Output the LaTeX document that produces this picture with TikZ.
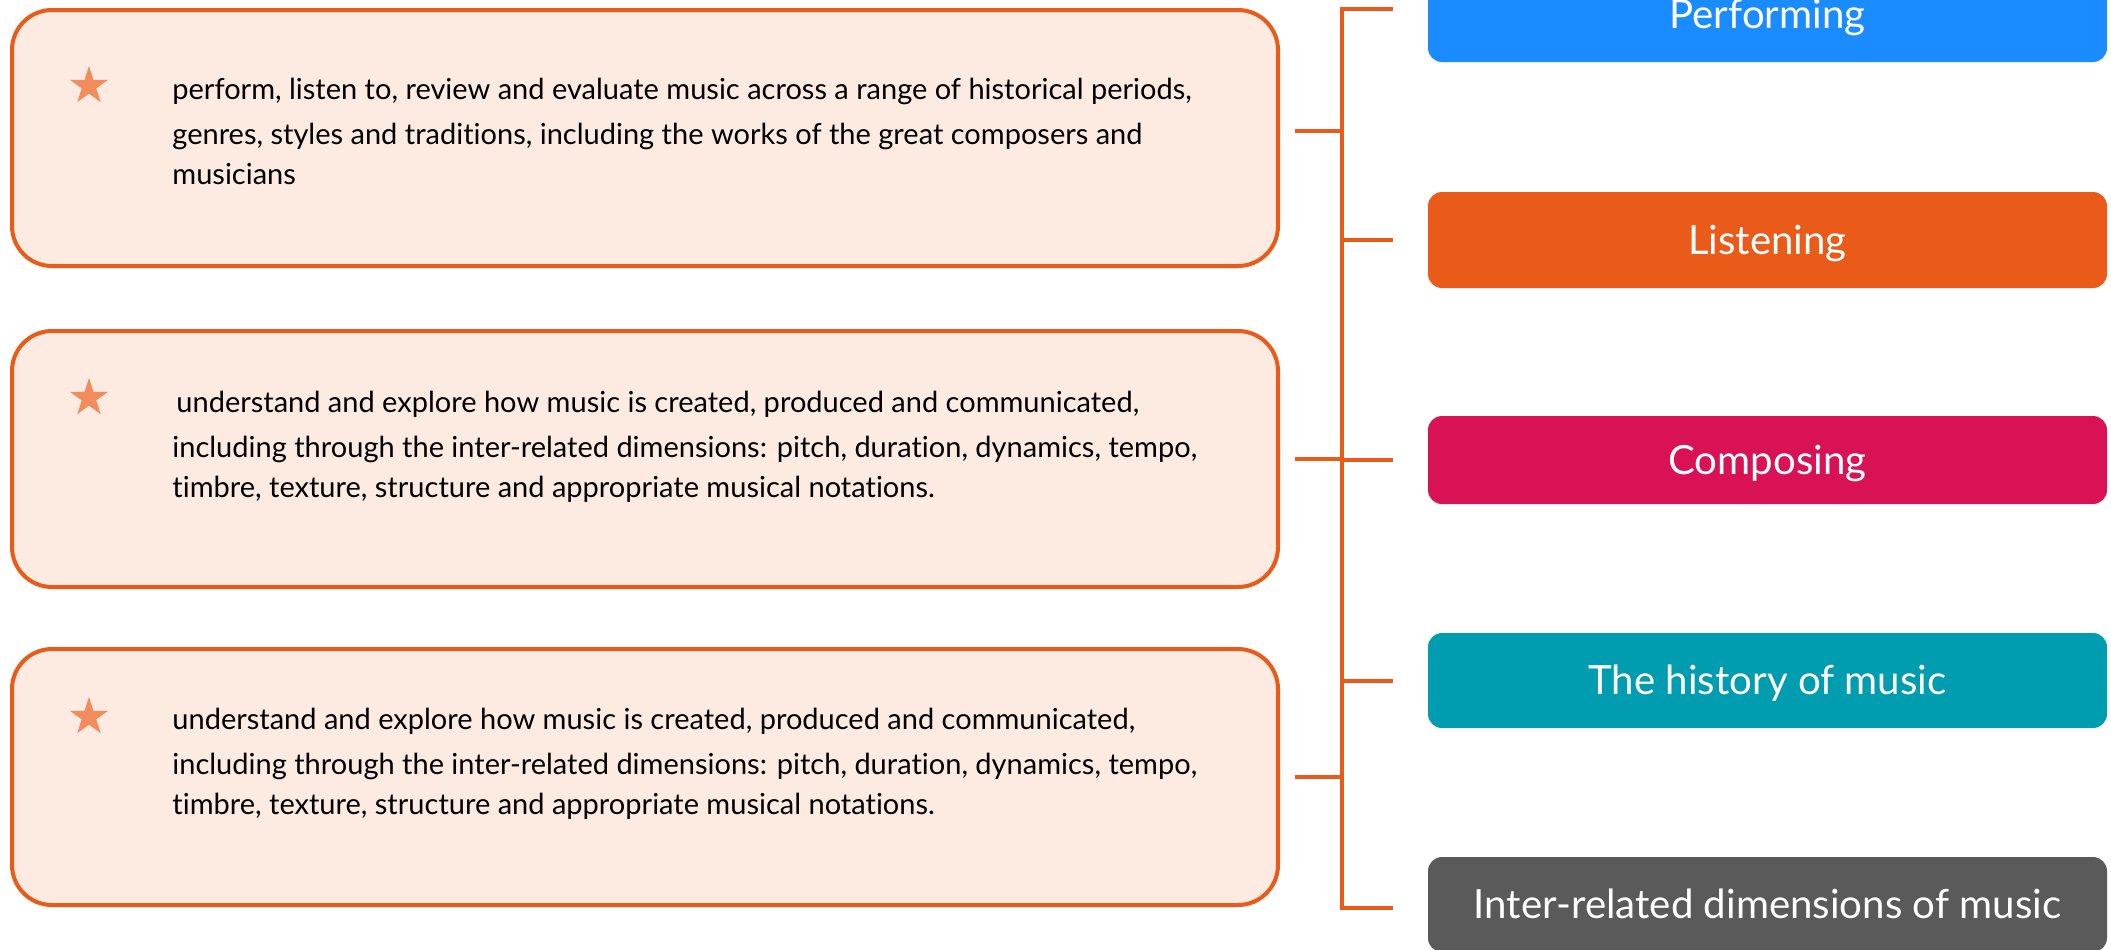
\documentclass[tikz,border=0pt]{standalone}
\usepackage{fontspec}
\setmainfont{Lato}[Ligatures=NoCommon]
\usetikzlibrary{shapes.geometric}
\definecolor{lineOrange}{RGB}{234, 91, 25}
\definecolor{paleOrange}{RGB}{253, 234, 225}
\definecolor{starOrange}{RGB}{242, 140, 92}
\definecolor{skyBlue}{RGB}{27, 140, 255}
\definecolor{deepCrimson}{RGB}{217, 18, 86}
\definecolor{tealBlue}{RGB}{0, 156, 176}
\definecolor{darkGray}{RGB}{90, 90, 90}

\tikzset{
  aimbox/.style={draw=lineOrange, line width=2pt, fill=paleOrange, rounded corners=20pt,
    minimum width=633pt, minimum height=128pt, inner sep=0pt},
  aimtext/.style={align=left, inner sep=0pt, anchor=base west,
    font=\fontsize{14.5pt}{19.75pt}\selectfont},
  aimstar/.style={star, star points=5, star point ratio=2.618, fill=starOrange,
    minimum size=20pt, inner sep=0pt},
  strand/.style={rounded corners=7pt, minimum width=339.5pt, inner sep=0pt, text=white,
    text height=14.4pt, text depth=0pt, font=\fontsize{20.1pt}{24pt}\selectfont},
  link/.style={draw=lineOrange, line width=2pt}
}

\begin{document}
\begin{tikzpicture}[x=0.5pt, y=-0.5pt]
\useasboundingbox (0,0) rectangle (2111,949);
% Aims boxes with stars
\foreach \i/\y/\sy in {1/138/86, 2/459/398, 3/777/717} {
    \node[aimbox] (aim\i) at (645,\y) {};
    \node[aimstar] (star\i) at (89,\sy) {};
}
\node[aimtext] (text1) at (172,184) {perform, listen to, review and evaluate music across a range of historical periods,\\[3pt]
    genres, styles and traditions, including the works of the great composers and\\
    musicians};
\node[aimtext] (text2) at (172,497) {\hspace{2pt}understand and explore how music is created, produced and communicated,\\[3pt]
    including through the inter-related dimensions: pitch, duration, dynamics, tempo,\\
    timbre, texture, structure and appropriate musical notations.};
\node[aimtext] (text3) at (172,814) {understand and explore how music is created, produced and communicated,\\[3pt]
    including through the inter-related dimensions: pitch, duration, dynamics, tempo,\\
    timbre, texture, structure and appropriate musical notations.};
% Strands of music
\foreach \i/\y/\h/\col/\txt in {
    1/14.5/47.5pt/skyBlue/Performing,
    2/240/48pt/lineOrange/Listening,
    3/460/44pt/deepCrimson/Composing,
    4/680.5/47.5pt/tealBlue/The history of music,
    5/904.5/47.5pt/darkGray/Inter-related dimensions of music
} {
    \node[strand, fill=\col, minimum height=\h] (strand\i) at (1767.5,\y) {\txt};
}
% Bracket
\coordinate (bus) at (1342,0);
\draw[link] ([xshift=-17.5pt,yshift=3pt]strand1.west) -- ([yshift=3pt]strand1.west -| bus)
    -- ([yshift=-1.5pt]strand5.west -| bus) -- ([xshift=-17.5pt,yshift=-1.5pt]strand5.west);
\foreach \i in {2,3,4}
    \draw[link] (strand\i.west -| bus) -- ([xshift=-17.5pt]strand\i.west);
\draw[link] ([xshift=7.5pt,yshift=3.5pt]aim1.east) -- ([yshift=3.5pt]aim1.east -| bus);
\foreach \i in {2,3}
    \draw[link] ([xshift=7.5pt]aim\i.east) -- (aim\i.east -| bus);
\end{tikzpicture}
\end{document}
